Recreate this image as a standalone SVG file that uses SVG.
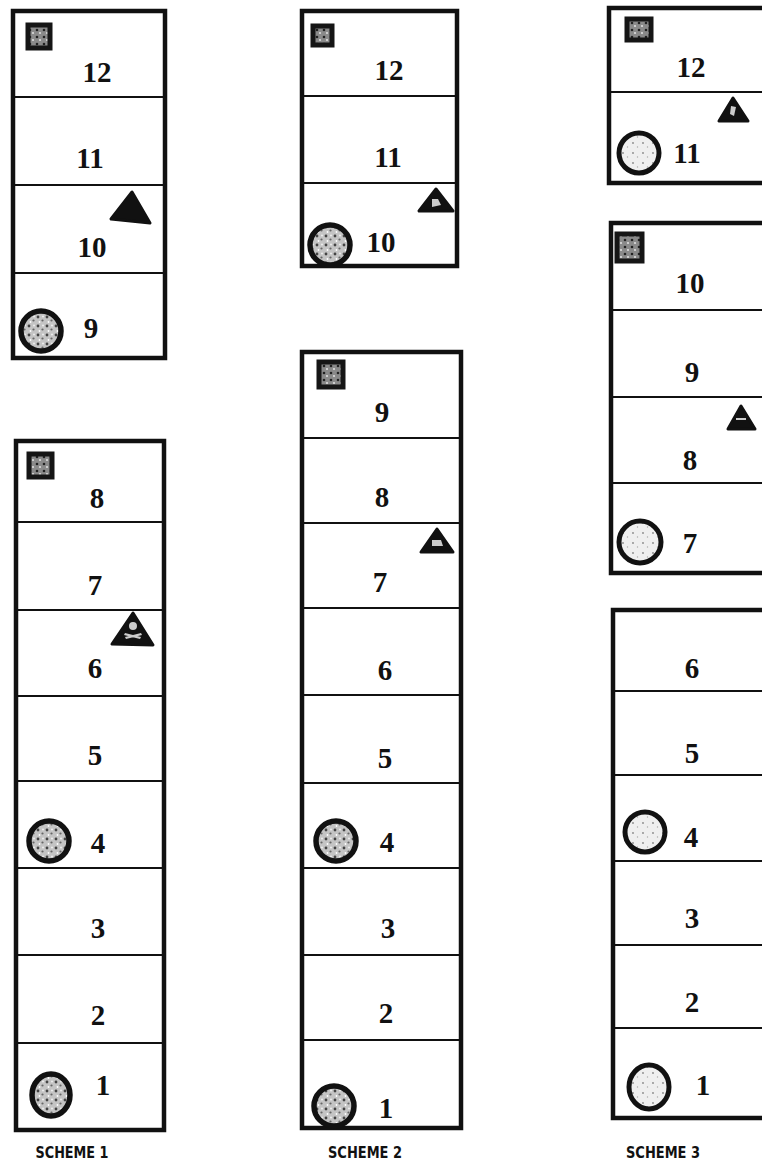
<svg xmlns="http://www.w3.org/2000/svg" width="762" height="1174" viewBox="0 0 762 1174">
<style>
.box{fill:#fff;stroke:#111;stroke-width:4.5}
.div{stroke:#111;stroke-width:2}
.n{font-family:"Liberation Serif","Times New Roman",serif;font-weight:bold;font-size:29px;fill:#111;text-anchor:middle}
.cap{font-family:"DejaVu Sans Condensed","Liberation Sans",Arial,sans-serif;font-weight:bold;font-size:15px;fill:#111;text-anchor:middle}
.ball{fill:url(#mottle);stroke:#111;stroke-width:5.5}
.ball3{fill:url(#light);stroke:#111;stroke-width:5}
.sq{fill:url(#dark);stroke:#151515;stroke-width:5}
.tri{fill:#111;stroke:#111;stroke-width:3;stroke-linejoin:round}
.spk{fill:#ccc}
</style>
<defs>
<pattern id="mottle" patternUnits="userSpaceOnUse" width="9" height="9">
<rect width="9" height="9" fill="#c4c4c4"/>
<circle cx="2" cy="2" r="1.4" fill="#444"/>
<circle cx="6.5" cy="5.5" r="1.1" fill="#666"/>
<circle cx="3.5" cy="7" r="0.9" fill="#fff"/>
<circle cx="7" cy="1.5" r="1" fill="#eee"/>
</pattern>
<pattern id="dark" patternUnits="userSpaceOnUse" width="7" height="7">
<rect width="7" height="7" fill="#8a8a8a"/>
<circle cx="2" cy="2" r="1.3" fill="#222"/>
<circle cx="5" cy="5" r="1.1" fill="#ddd"/>
</pattern>
<pattern id="light" patternUnits="userSpaceOnUse" width="10" height="10">
<rect width="10" height="10" fill="#efefef"/>
<circle cx="3" cy="3" r="0.9" fill="#888"/>
<circle cx="7.5" cy="7" r="0.7" fill="#aaa"/>
</pattern>
</defs>

<g id="scheme1-upper">
<rect class="box" x="13" y="11" width="152" height="347"/>
<line class="div" x1="13" y1="97" x2="165" y2="97"/>
<line class="div" x1="13" y1="185" x2="165" y2="185"/>
<line class="div" x1="13" y1="273" x2="165" y2="273"/>
<rect class="sq" x="28" y="25" width="22" height="23"/>
<polygon class="tri" points="132,192 111,219 150,223"/>
<circle class="ball" cx="41" cy="331" r="20"/>
<text class="n" x="97" y="82">12</text>
<text class="n" x="90" y="168">11</text>
<text class="n" x="92" y="257">10</text>
<text class="n" x="91" y="338">9</text>
</g>

<g id="scheme1-lower">
<rect class="box" x="16" y="441" width="148" height="689"/>
<line class="div" x1="16" y1="522" x2="164" y2="522"/>
<line class="div" x1="16" y1="610" x2="164" y2="610"/>
<line class="div" x1="16" y1="696" x2="164" y2="696"/>
<line class="div" x1="16" y1="781" x2="164" y2="781"/>
<line class="div" x1="16" y1="868" x2="164" y2="868"/>
<line class="div" x1="16" y1="955" x2="164" y2="955"/>
<line class="div" x1="16" y1="1043" x2="164" y2="1043"/>
<rect class="sq" x="29" y="454" width="23" height="23"/>
<polygon class="tri" points="133,613 112,644 153,645"/>
<path class="spk" d="M129,626 a4,4 0 1 1 8,0 a4,4 0 1 1 -8,0 z M125,637 l16,-4 l1,2 l-16,4 z M125,633 l16,4 l-1,2 l-16,-4 z"/>
<circle class="ball" cx="49" cy="841" r="20"/>
<ellipse class="ball" cx="51" cy="1095" rx="19" ry="21"/>
<text class="n" x="97" y="508">8</text>
<text class="n" x="95" y="595">7</text>
<text class="n" x="95" y="678">6</text>
<text class="n" x="95" y="765">5</text>
<text class="n" x="98" y="853">4</text>
<text class="n" x="98" y="938">3</text>
<text class="n" x="98" y="1025">2</text>
<text class="n" x="103" y="1095">1</text>
</g>

<g id="scheme2-upper">
<rect class="box" x="302" y="11" width="155" height="255"/>
<line class="div" x1="302" y1="96" x2="457" y2="96"/>
<line class="div" x1="302" y1="183" x2="457" y2="183"/>
<rect class="sq" x="313" y="26" width="19" height="19"/>
<polygon class="tri" points="436,189 419,211 453,211"/>
<path class="spk" d="M432,199 l6,0 l3,6 l-9,2 z"/>
<circle class="ball" cx="330" cy="245" r="20"/>
<text class="n" x="389" y="80">12</text>
<text class="n" x="388" y="167">11</text>
<text class="n" x="381" y="252">10</text>
</g>

<g id="scheme2-lower">
<rect class="box" x="302" y="352" width="159" height="776"/>
<line class="div" x1="302" y1="438" x2="461" y2="438"/>
<line class="div" x1="302" y1="523" x2="461" y2="523"/>
<line class="div" x1="302" y1="608" x2="461" y2="608"/>
<line class="div" x1="302" y1="695" x2="461" y2="695"/>
<line class="div" x1="302" y1="783" x2="461" y2="783"/>
<line class="div" x1="302" y1="868" x2="461" y2="868"/>
<line class="div" x1="302" y1="955" x2="461" y2="955"/>
<line class="div" x1="302" y1="1040" x2="461" y2="1040"/>
<rect class="sq" x="319" y="362" width="24" height="25"/>
<polygon class="tri" points="437,529 421,552 453,552"/>
<path class="spk" d="M432,540 l9,0 l2,6 l-11,0 z"/>
<circle class="ball" cx="336" cy="841" r="20"/>
<circle class="ball" cx="334" cy="1106" r="20"/>
<text class="n" x="382" y="422">9</text>
<text class="n" x="382" y="507">8</text>
<text class="n" x="380" y="592">7</text>
<text class="n" x="385" y="680">6</text>
<text class="n" x="385" y="768">5</text>
<text class="n" x="387" y="852">4</text>
<text class="n" x="388" y="938">3</text>
<text class="n" x="386" y="1023">2</text>
<text class="n" x="386" y="1118">1</text>
</g>

<g id="scheme3-upper">
<rect class="box" x="609" y="8" width="170" height="175"/>
<line class="div" x1="609" y1="92" x2="779" y2="92"/>
<rect class="sq" x="627" y="19" width="24" height="21"/>
<polygon class="tri" points="733,98 719,121 748,121"/>
<path class="spk" d="M731,106 l5,1 l-2,9 l-4,-2 z"/>
<circle class="ball3" cx="639" cy="153" r="20"/>
<text class="n" x="691" y="77">12</text>
<text class="n" x="687" y="163">11</text>
</g>

<g id="scheme3-middle">
<rect class="box" x="611" y="223" width="170" height="350"/>
<line class="div" x1="611" y1="310" x2="781" y2="310"/>
<line class="div" x1="611" y1="397" x2="781" y2="397"/>
<line class="div" x1="611" y1="483" x2="781" y2="483"/>
<rect class="sq" x="617" y="234" width="25" height="27"/>
<polygon class="tri" points="741,406 728,429 755,429"/>
<path class="spk" d="M736,418 l10,0 l0,2 l-10,0 z"/>
<circle class="ball3" cx="640" cy="542" r="21"/>
<text class="n" x="690" y="293">10</text>
<text class="n" x="692" y="382">9</text>
<text class="n" x="690" y="470">8</text>
<text class="n" x="690" y="553">7</text>
</g>

<g id="scheme3-lower">
<rect class="box" x="613" y="610" width="170" height="508"/>
<line class="div" x1="613" y1="691" x2="783" y2="691"/>
<line class="div" x1="613" y1="775" x2="783" y2="775"/>
<line class="div" x1="613" y1="861" x2="783" y2="861"/>
<line class="div" x1="613" y1="945" x2="783" y2="945"/>
<line class="div" x1="613" y1="1028" x2="783" y2="1028"/>
<circle class="ball3" cx="645" cy="832" r="20"/>
<ellipse class="ball3" cx="649" cy="1087" rx="20" ry="22"/>
<text class="n" x="692" y="678">6</text>
<text class="n" x="692" y="763">5</text>
<text class="n" x="691" y="847">4</text>
<text class="n" x="692" y="928">3</text>
<text class="n" x="692" y="1012">2</text>
<text class="n" x="703" y="1095">1</text>
</g>

<g id="captions">
<text class="cap" x="72" y="1158" textLength="73" lengthAdjust="spacingAndGlyphs">SCHEME 1</text>
<text class="cap" x="365" y="1158" textLength="74" lengthAdjust="spacingAndGlyphs">SCHEME 2</text>
<text class="cap" x="663" y="1158" textLength="74" lengthAdjust="spacingAndGlyphs">SCHEME 3</text>
</g>

<g id="connectors"/>
</svg>
